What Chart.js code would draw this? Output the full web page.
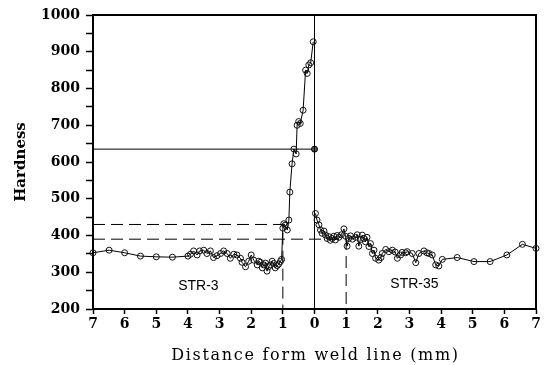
<!DOCTYPE html>
<html>
<head>
<meta charset="utf-8">
<script src="https://cdn.jsdelivr.net/npm/chart.js@4.4.0/dist/chart.umd.min.js"></script>
<style>
  html, body { margin: 0; padding: 0; background: #fff; }
</style>
</head>
<body>
<canvas id="hardnessChart" width="545" height="365"></canvas>
<script>
// STR-3 side (negative distance = left of weld line)
const str3Distance = [-7.0, -6.49, -6.0, -5.5, -5.0, -4.49, -4.0, -3.92, -3.82, -3.71, -3.63, -3.5, -3.4, -3.29, -3.19, -3.08,
  -2.97, -2.87, -2.76, -2.66, -2.55, -2.45, -2.34, -2.29, -2.18, -2.08, -2.0, -1.92, -1.81, -1.76, -1.71, -1.65, -1.6, -1.55,
  -1.5, -1.45, -1.39, -1.34, -1.29, -1.24, -1.18, -1.13, -1.08, -1.04, -1.0, -0.97, -0.93, -0.86, -0.81, -0.78, -0.71, -0.65,
  -0.58, -0.55, -0.5, -0.45, -0.36, -0.28, -0.23, -0.18, -0.12, -0.04];
const str3Hardness = [353, 360, 353, 344, 342, 341, 344, 349, 358, 347, 358, 360, 351, 358, 340, 345,
  351, 358, 351, 338, 349, 347, 338, 327, 315, 330, 347, 333, 320, 330, 327, 312, 320, 325,
  303, 315, 320, 330, 324, 312, 318, 322, 329, 335, 420, 432, 428, 415, 442, 518, 595, 635,
  622, 700, 710, 705, 741, 850, 841, 864, 870, 927];

// STR-35 side (positive distance = right of weld line)
const str35Distance = [0.03, 0.08, 0.14, 0.19, 0.24, 0.3, 0.35, 0.4, 0.45, 0.5, 0.56, 0.61, 0.66, 0.72, 0.77, 0.85, 0.93, 0.98,
  1.03, 1.08, 1.14, 1.2, 1.3, 1.35, 1.4, 1.45, 1.51, 1.56, 1.61, 1.66, 1.72, 1.77, 1.83, 1.88, 1.93, 2.03, 2.1, 2.14,
  2.25, 2.35, 2.46, 2.55, 2.62, 2.72, 2.77, 2.88, 2.93, 3.09, 3.2, 3.3, 3.46, 3.55, 3.62, 3.72, 3.83, 3.93, 4.04,
  4.51, 5.04, 5.55, 6.08, 6.57, 7.0];
const str35Hardness = [460, 442, 429, 415, 406, 412, 401, 392, 397, 387, 392, 398, 388, 400, 395, 402, 418, 398,
  371, 392, 399, 390, 395, 402, 371, 389, 401, 392, 383, 395, 370, 378, 351, 360, 338, 333, 340, 351,
  362, 356, 360, 355, 338, 347, 354, 353, 356, 351, 326, 351, 358, 353, 351, 347, 320, 317, 335,
  340, 329, 329, 347, 376, 365];

// reference levels
const weldLine = 0;
const peakLevel = 635;
const hazLevels = [430, 390];   // STR-3, STR-35
const hazEdges = [-1, 1];
const yMin = 200, yMax = 1000;
const xMin = -7, xMax = 7;

const xTitle = 'Distance form weld line (mm)';
const seriesLabels = [
  { text: 'STR-3', x: -3.67, y: 263 },
  { text: 'STR-35', x: 3.16, y: 268 }
];

function zip(xs, ys) {
  return xs.map((x, i) => ({ x: x, y: ys[i] }));
}

const serieStil = {
  showLine: true,
  borderColor: '#000',
  borderWidth: 1,
  pointRadius: 3,
  pointBorderWidth: 1,
  pointBorderColor: '#111',
  pointBackgroundColor: 'rgba(255,255,255,0)',
  clip: false
};

// Tekst STR-3 / STR-35 inne i plottet, og x-tittel med sperret skrift
const etiketter = {
  id: 'etiketter',
  afterDraw(chart) {
    const ctx = chart.ctx;
    const area = chart.chartArea;
    ctx.save();
    ctx.fillStyle = '#000';
    ctx.font = '14px "Liberation Sans"';
    ctx.textAlign = 'center';
    ctx.textBaseline = 'middle';
    seriesLabels.forEach(l => {
      ctx.fillText(l.text, chart.scales.x.getPixelForValue(l.x), chart.scales.y.getPixelForValue(l.y));
    });
    ctx.font = '16px "DejaVu Serif"';
    ctx.letterSpacing = '1.7px';
    ctx.textBaseline = 'alphabetic';
    ctx.fillText(xTitle, (area.left + area.right) / 2 + 1, 360);
    ctx.restore();
  }
};

const tickFont = { family: 'DejaVu Serif', weight: 'bold', size: 14 };

new Chart(document.getElementById('hardnessChart'), {
  type: 'scatter',
  data: {
    datasets: [
      Object.assign({ label: 'STR-3', data: zip(str3Distance, str3Hardness) }, serieStil),
      Object.assign({ label: 'STR-35', data: zip(str35Distance, str35Hardness) }, serieStil),
      { label: 'weld', data: [{ x: weldLine, y: yMin }, { x: weldLine, y: yMax }], showLine: true,
        borderColor: '#000', borderWidth: 1, pointRadius: 0 },
      { label: 'peak', data: [{ x: xMin, y: peakLevel }, { x: weldLine, y: peakLevel }], showLine: true,
        borderColor: '#000', borderWidth: 1, pointRadius: [0, 3], pointBorderColor: '#000',
        pointBackgroundColor: '#555', clip: false },
      { label: 'haz3', data: [{ x: xMin, y: hazLevels[0] }, { x: hazEdges[0], y: hazLevels[0] }, { x: hazEdges[0], y: yMin }],
        showLine: true, borderColor: '#000', borderWidth: 1, borderDash: [12, 6], pointRadius: 0 },
      { label: 'haz35', data: [{ x: xMin, y: hazLevels[1] }, { x: hazEdges[1], y: hazLevels[1] }, { x: hazEdges[1], y: yMin }],
        showLine: true, borderColor: '#000', borderWidth: 1, borderDash: [12, 6], pointRadius: 0 }
    ]
  },
  options: {
    responsive: false,
    animation: false,
    devicePixelRatio: 1,
    layout: { padding: { left: 0, right: 9, top: 15, bottom: 0 } },
    plugins: { legend: { display: false }, tooltip: { enabled: false } },
    scales: {
      x: {
        type: 'linear', position: 'bottom', min: xMin, max: xMax,
        ticks: { stepSize: 1, autoSkip: false, maxRotation: 0, color: '#000', font: tickFont, padding: 2,
          callback: v => Math.abs(v) },
        grid: { drawOnChartArea: false, tickLength: 5, tickColor: '#000', tickWidth: 1.5 },
        border: { color: '#000', width: 2 },
        title: { display: false },
        afterFit: s => { s.height = 56; }
      },
      x2: {
        type: 'linear', position: 'top', min: xMin, max: xMax,
        ticks: { display: false }, grid: { display: false },
        border: { color: '#000', width: 2 },
        afterFit: s => { s.height = 0; }
      },
      y: {
        type: 'linear', position: 'left', min: yMin, max: yMax,
        ticks: { stepSize: 50, autoSkip: false, color: '#000', font: tickFont, padding: 6,
          callback: v => (v % 100 === 0 ? v : '') },
        grid: { drawOnChartArea: false, tickLength: 7, tickColor: '#000', tickWidth: 1.5 },
        border: { color: '#000', width: 2 },
        title: { display: true, text: 'Hardness', color: '#000',
          font: { family: 'DejaVu Serif', weight: 'bold', size: 15 }, padding: { top: 12, bottom: 0 } },
        afterFit: s => { s.width = 93; }
      },
      y2: {
        type: 'linear', position: 'right', min: yMin, max: yMax,
        ticks: { display: false }, grid: { display: false },
        border: { color: '#000', width: 2 },
        afterFit: s => { s.width = 0; }
      }
    }
  },
  plugins: [etiketter]
});
</script>
</body>
</html>
